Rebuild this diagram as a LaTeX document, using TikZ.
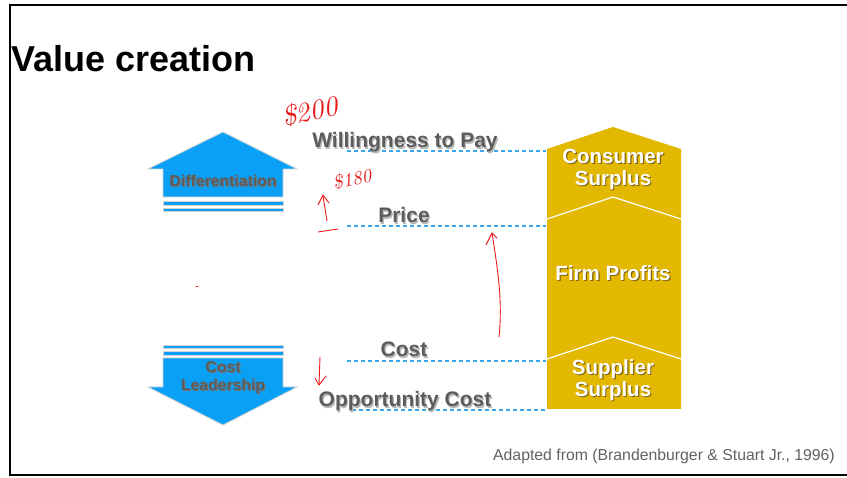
\documentclass[tikz,border=0pt]{standalone}
\usepackage{fontspec}
\setmainfont{Liberation Sans}
\newfontfamily\handfont{lmroman10-italic}[Extension=.otf]

\definecolor{arrowblue}{RGB}{10,160,245}
\definecolor{dashblue}{RGB}{60,165,235}
\definecolor{gold}{RGB}{227,184,0}
\definecolor{labelgray}{RGB}{92,92,92}
\definecolor{goldshade}{RGB}{130,100,20}
\definecolor{inkred}{RGB}{235,25,25}

% text with a soft drop shadow
\newcommand\sh[2][black!28]{\rlap{\kern1.2pt\raisebox{-1.2pt}{\color{#1}#2}}#2}

\begin{document}
\begin{tikzpicture}[x=1pt,y=-1pt,
  frame/.style={line width=2.5pt},
  bluearrow/.style={fill=arrowblue,draw=black!18,line width=0.8pt},
  level/.style={draw=dashblue,line width=1.6pt,dash pattern=on 4pt off 3pt},
  levellabel/.style={text=labelgray,font=\fontsize{21}{22}\selectfont\bfseries,inner sep=0pt,anchor=base},
  arrowlabel/.style={text=labelgray,font=\fontsize{15.8}{18}\selectfont\bfseries,inner sep=0pt,align=center},
  band/.style={fill=gold},
  divider/.style={draw=white,line width=1.2pt},
  bandlabel/.style={text=white,font=\fontsize{20.5}{22}\selectfont\bfseries,inner sep=0pt,align=center},
  ink/.style={draw=inkred,line width=0.9pt,line cap=round,line join=round},
  inklabel/.style={text=inkred,font=\handfont,inner sep=0pt}]
\useasboundingbox (0,0) rectangle (847,478);

% slide frame
\draw[frame] (847,5) -- (10,5) -- (10,475) -- (847,475);
\node[anchor=base west,inner sep=0pt,font=\fontsize{36}{40}\selectfont\bfseries] (title) at (11,72) {Value creation};

% differentiation arrow
\filldraw[bluearrow] (223,132) -- (297,169) -- (283,169) -- (283,197) -- (163,197) -- (163,169) -- (148,169) -- cycle;
\filldraw[bluearrow] (163,201) rectangle (283,205);
\filldraw[bluearrow] (163,208) rectangle (283,211);
\node[arrowlabel] (diff) at (223,181.5) {\sh[black!55]{Differentiation}};

% cost leadership arrow
\filldraw[bluearrow] (163,345) rectangle (283,348);
\filldraw[bluearrow] (163,351) rectangle (283,355);
\filldraw[bluearrow] (163,358) -- (283,358) -- (283,387) -- (297,387) -- (223,425) -- (148,387) -- (163,387) -- cycle;
\node[arrowlabel] (costlead) at (223,378) {\sh[black!55]{Cost}\\\sh[black!55]{Leadership}};

% value stick
\fill[band] (547,149) -- (613,127) -- (681,149) -- (681,409) -- (547,409) -- cycle;
\draw[divider] (547,219) -- (613,197) -- (681,219);
\draw[divider] (547,359) -- (613,337) -- (681,359);
\node[bandlabel] (consumer) at (613,170) {\sh[goldshade]{Consumer}\\\sh[goldshade]{Surplus}};
\node[bandlabel] (profits) at (613,274) {\sh[goldshade]{Firm Profits}};
\node[bandlabel] (supplier) at (613,381) {\sh[goldshade]{Supplier}\\\sh[goldshade]{Surplus}};

% levels
\coordinate (wtp-l) at (347,151);   \coordinate (wtp-r) at (546,151);
\coordinate (price-l) at (347,226); \coordinate (price-r) at (546,226);
\coordinate (cost-l) at (347,361);  \coordinate (cost-r) at (546,361);
\coordinate (opp-l) at (352,410);   \coordinate (opp-r) at (546,410);
\draw[level] (wtp-l) -- (wtp-r);
\draw[level] (price-l) -- (price-r);
\draw[level] (cost-l) -- (cost-r);
\draw[level] (opp-l) -- (opp-r);
\node[levellabel] (wtp) at (405,148) {\sh{Willingness to Pay}};
\node[levellabel] (price) at (404,223) {\sh{Price}};
\node[levellabel] (cost) at (404,357) {\sh{Cost}};
\node[levellabel] (opp) at (405,407) {\sh{Opportunity Cost}};

\node[anchor=base east,inner sep=0pt,text=black!62,font=\fontsize{15.8}{18}\selectfont] (source) at (835,461) {Adapted from (Brandenburger \& Stuart Jr., 1996)};

% handwritten notes
\node[inklabel,font=\handfont\fontsize{28}{28}\selectfont,rotate=12] (wtp-note) at (310,111) {\$200};
\node[inklabel,font=\handfont\fontsize{19}{19}\selectfont,rotate=12] (price-note) at (352,179) {\$180};
\draw[ink] (327,221) -- (323,196);
\draw[ink] (318,205) -- (323,195) -- (329,203);
\draw[ink] (318,232) -- (338,229);
\draw[ink] (499,337) .. controls (503,300) and (497,265) .. (492,233);
\draw[ink] (486,245) -- (492,233) -- (497,238);
\draw[ink] (320,357) -- (319,385);
\draw[ink] (315,378) -- (319,385) -- (326,376);
\draw[ink] (196,286) -- (198,286);
\end{tikzpicture}
\end{document}
